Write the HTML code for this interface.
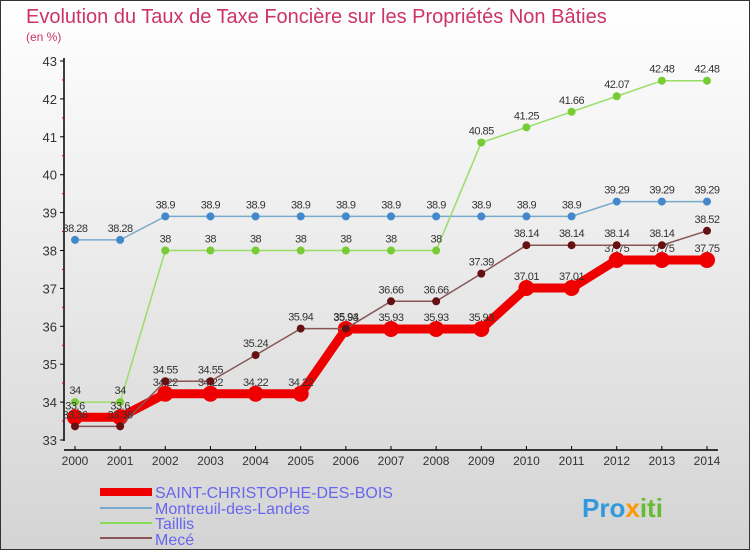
<!DOCTYPE html>
<html><head><meta charset="utf-8"><style>
body{margin:0;}
#c{width:750px;height:550px;position:relative;font-family:"Liberation Sans",sans-serif;}
</style></head><body>
<div id="c">
<svg width="750" height="550" xmlns="http://www.w3.org/2000/svg" id="svg">
<defs><linearGradient id="bg" x1="0" y1="0" x2="0" y2="1"><stop offset="0" stop-color="#ffffff"/><stop offset="1" stop-color="#d4d4d4"/></linearGradient></defs>
<rect x="0.5" y="0.5" width="749" height="549" fill="url(#bg)" stroke="#333"/>
<text x="26" y="23" font-size="20" fill="#cc3366">Evolution du Taux de Taxe Foncière sur les Propriétés Non Bâties</text>
<text x="26" y="41" font-size="12" fill="#cc3366">(en %)</text>
<g id="axes"></g><g id="series"></g>
<g>
<rect x="100" y="488" width="52" height="8" fill="#ee0000"/>
<text x="155" y="498" font-size="16" fill="#6666ee">SAINT-CHRISTOPHE-DES-BOIS</text>
<line x1="100" y1="508" x2="152" y2="508" stroke="#77aacc" stroke-width="2"/>
<text x="155" y="514" font-size="16" fill="#6666ee">Montreuil-des-Landes</text>
<line x1="100" y1="523" x2="152" y2="523" stroke="#88dd55" stroke-width="2"/>
<text x="155" y="529" font-size="16" fill="#6666ee">Taillis</text>
<line x1="100" y1="538" x2="152" y2="538" stroke="#885555" stroke-width="2"/>
<text x="155" y="545" font-size="16" fill="#6666ee">Mecé</text>
</g>
<text x="582" y="517" font-size="26" font-weight="bold" fill="#3399dd">Pro<tspan fill="#ff9900">x</tspan><tspan fill="#66bb33">iti</tspan></text>
</svg>
</div>
<script>
const years=[2000,2001,2002,2003,2004,2005,2006,2007,2008,2009,2010,2011,2012,2013,2014];
const saint=[33.6,33.6,34.22,34.22,34.22,34.22,35.93,35.93,35.93,35.93,37.01,37.01,37.75,37.75,37.75];
const montreuil=[38.28,38.28,38.9,38.9,38.9,38.9,38.9,38.9,38.9,38.9,38.9,38.9,39.29,39.29,39.29];
const taillis=[34,34,38,38,38,38,38,38,38,40.85,41.25,41.66,42.07,42.48,42.48];
const mece=[33.36,33.36,34.55,34.55,35.24,35.94,35.94,36.66,36.66,37.39,38.14,38.14,38.14,38.14,38.52];
const yTicks=[33,34,35,36,37,38,39,40,41,42,43];
const NS="http://www.w3.org/2000/svg";
const X=i=>75+i*(707-75)/(years.length-1);
const Y=v=>440-(v-33)*(440-61)/10;
function mk(tag,attrs,parent){const e=document.createElementNS(NS,tag);for(const k in attrs)e.setAttribute(k,attrs[k]);parent.appendChild(e);return e;}
const ax=document.getElementById('axes');
const a1=mk('line',{x1:64,y1:58,x2:64,y2:441,stroke:'#000','stroke-width':1.5},ax);


const a2=mk('line',{x1:64,y1:450,x2:718,y2:450,stroke:'#000','stroke-width':1.5},ax);


yTicks.forEach(t=>{
 mk('line',{x1:60,y1:Y(t),x2:64,y2:Y(t),stroke:'#000'},ax);
 if(t<43)mk('line',{x1:62,y1:Y(t+0.5),x2:65,y2:Y(t+0.5),stroke:'#cc0000'},ax);
 const tx=mk('text',{x:57,y:Y(t)+5,'font-size':13,fill:'#333','text-anchor':'end'},ax);tx.textContent=t;
 
 
});
years.forEach((y,i)=>{
 mk('line',{x1:X(i),y1:446,x2:X(i),y2:450,stroke:'#000'},ax);
 const tx=mk('text',{x:X(i),y:465,'font-size':12,fill:'#333','text-anchor':'middle'},ax);tx.textContent=y;
 
 
});
const sg=document.getElementById('series');
function draw(vals,color,w,r,dot,name){
 const g=mk('g',{},sg);
 
 
 mk('polyline',{points:vals.map((v,i)=>X(i)+','+Y(v)).join(' '),fill:'none',stroke:color,'stroke-width':w},g);
 vals.forEach((v,i)=>{
  const c=mk('circle',{cx:X(i),cy:Y(v),r:r,fill:dot},g);
  
  
  const t=mk('text',{x:X(i),y:Y(v)-8,'font-size':11,fill:'#333','text-anchor':'middle','letter-spacing':'-0.5'},g);t.textContent=v;
 });
}
draw(montreuil,'#77aacc',1.5,4,'#4488cc','series-montreuil');
draw(taillis,'#99dd66',1.5,4,'#77cc33','series-taillis');
draw(saint,'#ee0000',9,8,'#ee0000','series-saint-christophe');
draw(mece,'#885555',1.5,4,'#661111','series-mece');
</script>
</body></html>
